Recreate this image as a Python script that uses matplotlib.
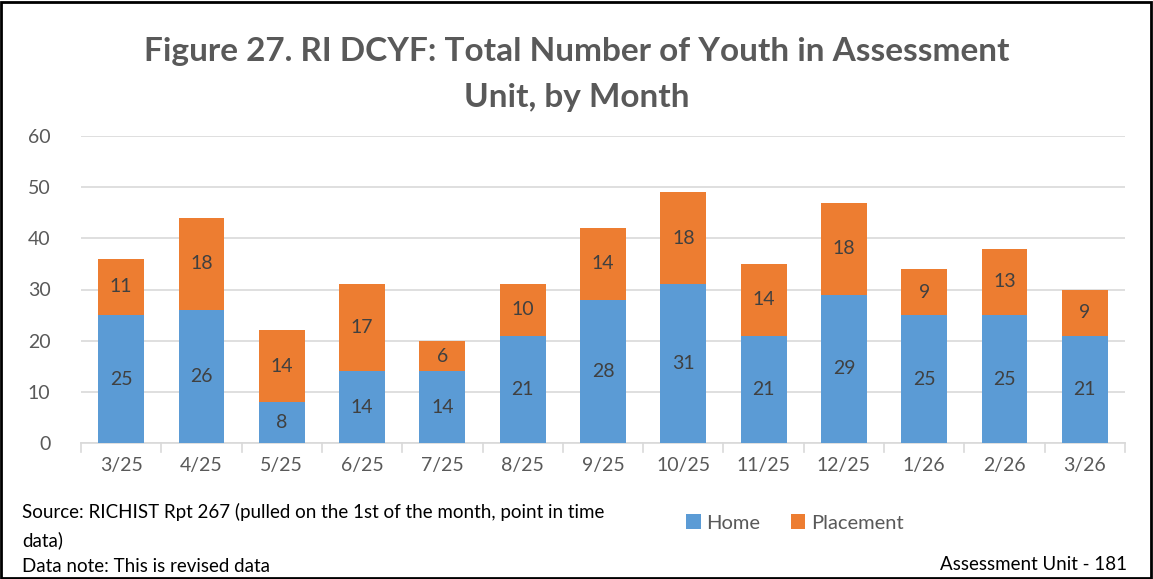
import matplotlib
matplotlib.use("Agg")
import matplotlib.pyplot as plt
from matplotlib.patches import Rectangle
import numpy as np

plt.rcParams['font.family'] = ['Lato', 'DejaVu Sans']

months = ["3/25", "4/25", "5/25", "6/25", "7/25", "8/25", "9/25", "10/25",
          "11/25", "12/25", "1/26", "2/26", "3/26"]
home = [25, 26, 8, 14, 14, 21, 28, 31, 21, 29, 25, 25, 21]
placement = [11, 18, 14, 17, 6, 10, 14, 18, 14, 18, 9, 13, 9]
yticks = [0, 10, 20, 30, 40, 50, 60]

BLUE = "#5B9BD5"
ORANGE = "#ED7D31"
GRAY = "#595959"
DARK = "#404040"

W, H = 1153, 579
fig = plt.figure(figsize=(W / 100, H / 100), dpi=100)
ax = fig.add_axes([81 / W, 1 - 443 / H, (1125 - 81) / W, (443 - 136) / H])

x = np.arange(len(months))
bw = 0.57
b1 = ax.bar(x, home, bw, color=BLUE, label="Home", zorder=3)
b2 = ax.bar(x, placement, bw, bottom=home, color=ORANGE, label="Placement", zorder=3)

for i in range(len(months)):
    ax.text(x[i], home[i] / 2, str(home[i]), ha="center", va="center",
            fontsize=14, color=DARK, zorder=4)
    ax.text(x[i], home[i] + placement[i] / 2, str(placement[i]), ha="center",
            va="center", fontsize=14, color=DARK, zorder=4)

ax.set_xlim(-0.5, len(months) - 0.5)
ax.set_ylim(0, 60)
ax.set_yticks(yticks)
ax.set_yticklabels([str(v) for v in yticks], fontsize=14, color=GRAY)
ax.set_xticks(x)
ax.set_xticklabels(months, fontsize=14, color=GRAY)
ax.tick_params(axis="y", length=0, pad=22)
ax.tick_params(axis="x", length=0, pad=10)
ax.yaxis.grid(True, color="#D9D9D9", linewidth=1.2, zorder=0)
ax.set_axisbelow(True)
for s in ["top", "right", "left"]:
    ax.spines[s].set_visible(False)
ax.spines["bottom"].set_color("#D9D9D9")
ax.spines["bottom"].set_linewidth(1.2)
# category separator ticks
for b in np.arange(-0.5, len(months), 1.0):
    ax.plot([b, b], [0, -1.7], color="#D9D9D9", lw=1.2, clip_on=False, zorder=1)

fig.text(0.5, 1 - 52 / H, "Figure 27. RI DCYF: Total Number of Youth in Assessment",
         ha="center", va="center", fontsize=24, fontweight="bold", color=GRAY)
fig.text(0.5, 1 - 98 / H, "Unit, by Month",
         ha="center", va="center", fontsize=24, fontweight="bold", color=GRAY)

fs_note = 13.5
fig.text(22 / W, 1 - 512 / H, "Source: RICHIST Rpt 267 (pulled on the 1st of the month, point in time",
         ha="left", va="center", fontsize=fs_note, color="black")
fig.text(22 / W, 1 - 540 / H, "data)", ha="left", va="center", fontsize=fs_note, color="black")
fig.text(22 / W, 1 - 566 / H, "Data note: This is revised data", ha="left", va="center",
         fontsize=fs_note, color="black")
fig.text(1127 / W, 1 - 564 / H, "Assessment Unit - 181", ha="right", va="center",
         fontsize=fs_note, color="black")

leg = fig.legend(handles=[b1, b2], labels=["Home", "Placement"], loc="center",
                 bbox_to_anchor=(795 / W, 1 - 523 / H), ncol=2, frameon=False,
                 fontsize=14.5, handlelength=0.7, handleheight=0.7, handletextpad=0.3,
                 columnspacing=1.5)
for t in leg.get_texts():
    t.set_color(GRAY)

fig.patches.append(Rectangle((0.001, 0.002), 0.997, 0.995, transform=fig.transFigure,
                             fill=False, edgecolor="black", linewidth=2))

fig.savefig("out.png", dpi=100, facecolor="white")
